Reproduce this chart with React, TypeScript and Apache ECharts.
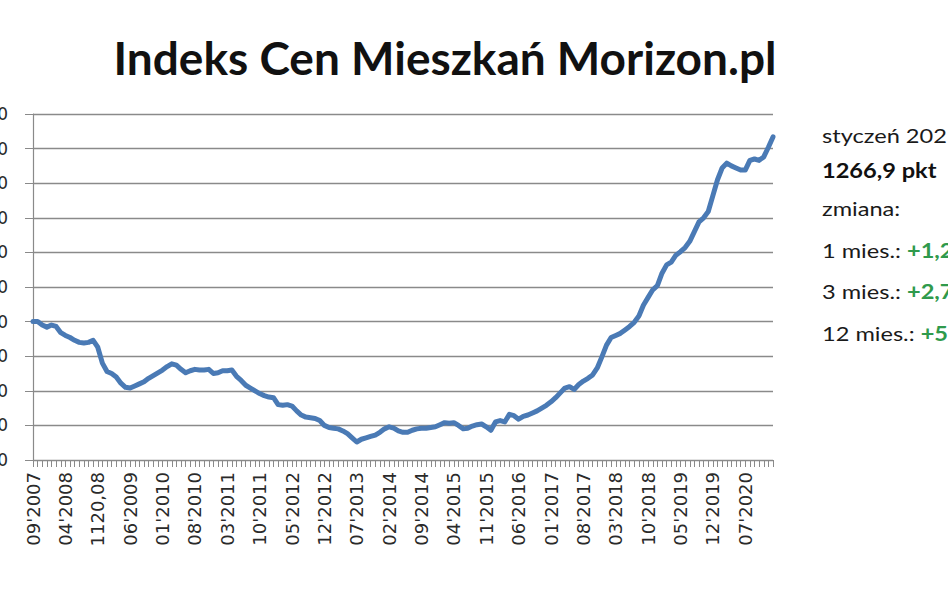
import React, { useEffect, useRef } from "react";
import * as echarts from "echarts";

// Monthly index values, 09'2007 .. 01'2021 (161 months)
const indexValues: number[] = [
  1000, 1000, 995, 992, 995, 993, 984, 980, 977, 973,
  970, 969, 970, 973, 963, 940, 928, 925, 920, 911,
  905, 904, 907, 910, 913, 918, 922, 926, 930, 935,
  939, 937, 931, 926, 929, 931, 930, 930, 931, 925,
  926, 929, 929, 930, 921, 915, 908, 904, 900, 896,
  893, 891, 890, 880, 879, 880, 878, 871, 865, 862,
  861, 860, 857, 850, 847, 846, 845, 842, 838, 832,
  826, 830, 832, 834, 836, 840, 845, 848, 846, 842,
  840, 840, 843, 845, 846, 846, 847, 848, 851, 854,
  853, 854, 850, 845, 846, 849, 851, 852, 848, 843,
  855, 857, 855, 866, 864, 859, 863, 865, 868, 871,
  875, 879, 884, 890, 897, 904, 906, 902, 909, 914,
  918, 923, 933, 949, 966, 977, 980, 983, 988, 993,
  999, 1008, 1024, 1035, 1046, 1052, 1070, 1082, 1086, 1096,
  1101, 1107, 1116, 1130, 1144, 1150, 1159, 1182, 1205, 1222,
  1229, 1225, 1222, 1219, 1219, 1233, 1235, 1233, 1238, 1252,
  1266.9,
];

// Tick labels shown on the category axis (every 7th month)
const tickLabels: string[] = [
  "09'2007", "04'2008", "1120,08", "06'2009", "01'2010", "08'2010",
  "03'2011", "10'2011", "05'2012", "12'2012", "07'2013", "02'2014",
  "09'2014", "04'2015", "11'2015", "06'2016", "01'2017", "08'2017",
  "03'2018", "10'2018", "05'2019", "12'2019", "07'2020",
];

const startYear = 2007;
const startMonth = 9;

const categories: string[] = indexValues.map((_, i) => {
  const m = ((startMonth - 1 + i) % 12) + 1;
  const y = startYear + Math.floor((startMonth - 1 + i) / 12);
  return (m < 10 ? "0" + m : "" + m) + "'" + y;
});
tickLabels.forEach((t, k) => {
  if (k * 7 < categories.length) categories[k * 7] = t;
});

const titleText = "Indeks Cen Mieszkań Morizon.pl";
const sideLines = {
  month: "styczeń 2021",
  value: "1266,9 pkt",
  change: "zmiana:",
  m1: ["1 mies.: ", "+1,2%"],
  m3: ["3 mies.: ", "+2,7%"],
  m12: ["12 mies.: ", "+5,1%"],
};

export default function App() {
  const ref = useRef<HTMLDivElement>(null);
  useEffect(() => {
    if (!ref.current) return;
    const chart = echarts.init(ref.current, undefined, { renderer: "svg" });
    const sideFont = "Lato";
    const green = "#2f9a4c";
    const sideX = 822;
    const sx = 1.18;
    const richRow = (parts: string[], y: number) => ({
      type: "text",
      x: sideX,
      y,
      scaleX: sx,
      style: {
        text: "{a|" + parts[0] + "}{g|" + parts[1] + "}",
        verticalAlign: "middle",
        rich: {
          a: { fontFamily: sideFont, fontSize: 20, fill: "#1a1a1a", fontWeight: "normal" },
          g: { fontFamily: sideFont, fontSize: 20, fill: green, fontWeight: "bold" },
        },
      },
    });
    chart.setOption({
      animation: false,
      backgroundColor: "#ffffff",
      grid: {
        left: 33,
        right: 175,
        top: 114,
        bottom: 133,
        containLabel: false,
        outerBoundsMode: "none",
      },
      xAxis: {
        type: "category",
        data: categories,
        boundaryGap: false,
        axisLine: { show: true, lineStyle: { color: "#8a8a8a", width: 1.2 } },
        axisTick: {
          show: true,
          interval: 0,
          length: 7,
          inside: false,
          lineStyle: { color: "#8a8a8a", width: 1 },
        },
        axisLabel: {
          interval: 6,
          rotate: 90,
          margin: 12,
          fontFamily: "DejaVu Sans",
          fontSize: 18,
          color: "#2a2a2a",
        },
        splitLine: { show: false },
      },
      yAxis: {
        type: "value",
        min: 800,
        max: 1300,
        interval: 50,
        axisLine: { show: true, lineStyle: { color: "#8a8a8a", width: 1.2 } },
        axisTick: { show: true, length: 8, lineStyle: { color: "#8a8a8a" } },
        axisLabel: {
          margin: 25,
          fontFamily: "DejaVu Sans",
          fontSize: 17,
          color: "#2a2a2a",
          formatter: (v: number) => String(v),
        },
        splitLine: { show: true, lineStyle: { color: "#8a8a8a", width: 1.3 } },
      },
      series: [
        {
          type: "line",
          data: indexValues,
          showSymbol: false,
          symbol: "none",
          smooth: false,
          lineStyle: { color: "#4a7ab5", width: 5, cap: "round", join: "round" },
        },
      ],
      graphic: [
        {
          type: "text",
          x: 445,
          y: 57,
          style: {
            text: titleText,
            fontFamily: "Lato",
            fontWeight: "bold",
            fontSize: 46,
            fill: "#111111",
            align: "center",
            verticalAlign: "middle",
          },
        },
        {
          type: "text",
          x: sideX,
          y: 135,
          scaleX: sx,
          style: {
            text: sideLines.month,
            fontFamily: sideFont,
            fontSize: 20,
            fill: "#1a1a1a",
            verticalAlign: "middle",
          },
        },
        {
          type: "text",
          x: sideX,
          y: 170,
          scaleX: sx,
          style: {
            text: sideLines.value,
            fontFamily: sideFont,
            fontSize: 20,
            fontWeight: "bold",
            fill: "#111111",
            verticalAlign: "middle",
          },
        },
        {
          type: "text",
          x: sideX,
          y: 208,
          scaleX: sx,
          style: {
            text: sideLines.change,
            fontFamily: sideFont,
            fontSize: 20,
            fill: "#1a1a1a",
            verticalAlign: "middle",
          },
        },
        richRow(sideLines.m1, 250),
        richRow(sideLines.m3, 291),
        richRow(sideLines.m12, 333),
      ],
    });
    return () => chart.dispose();
  }, []);
  return (
    <div
      ref={ref}
      style={{ position: "fixed", left: 0, top: 0, width: 948, height: 593, background: "#fff" }}
    />
  );
}
